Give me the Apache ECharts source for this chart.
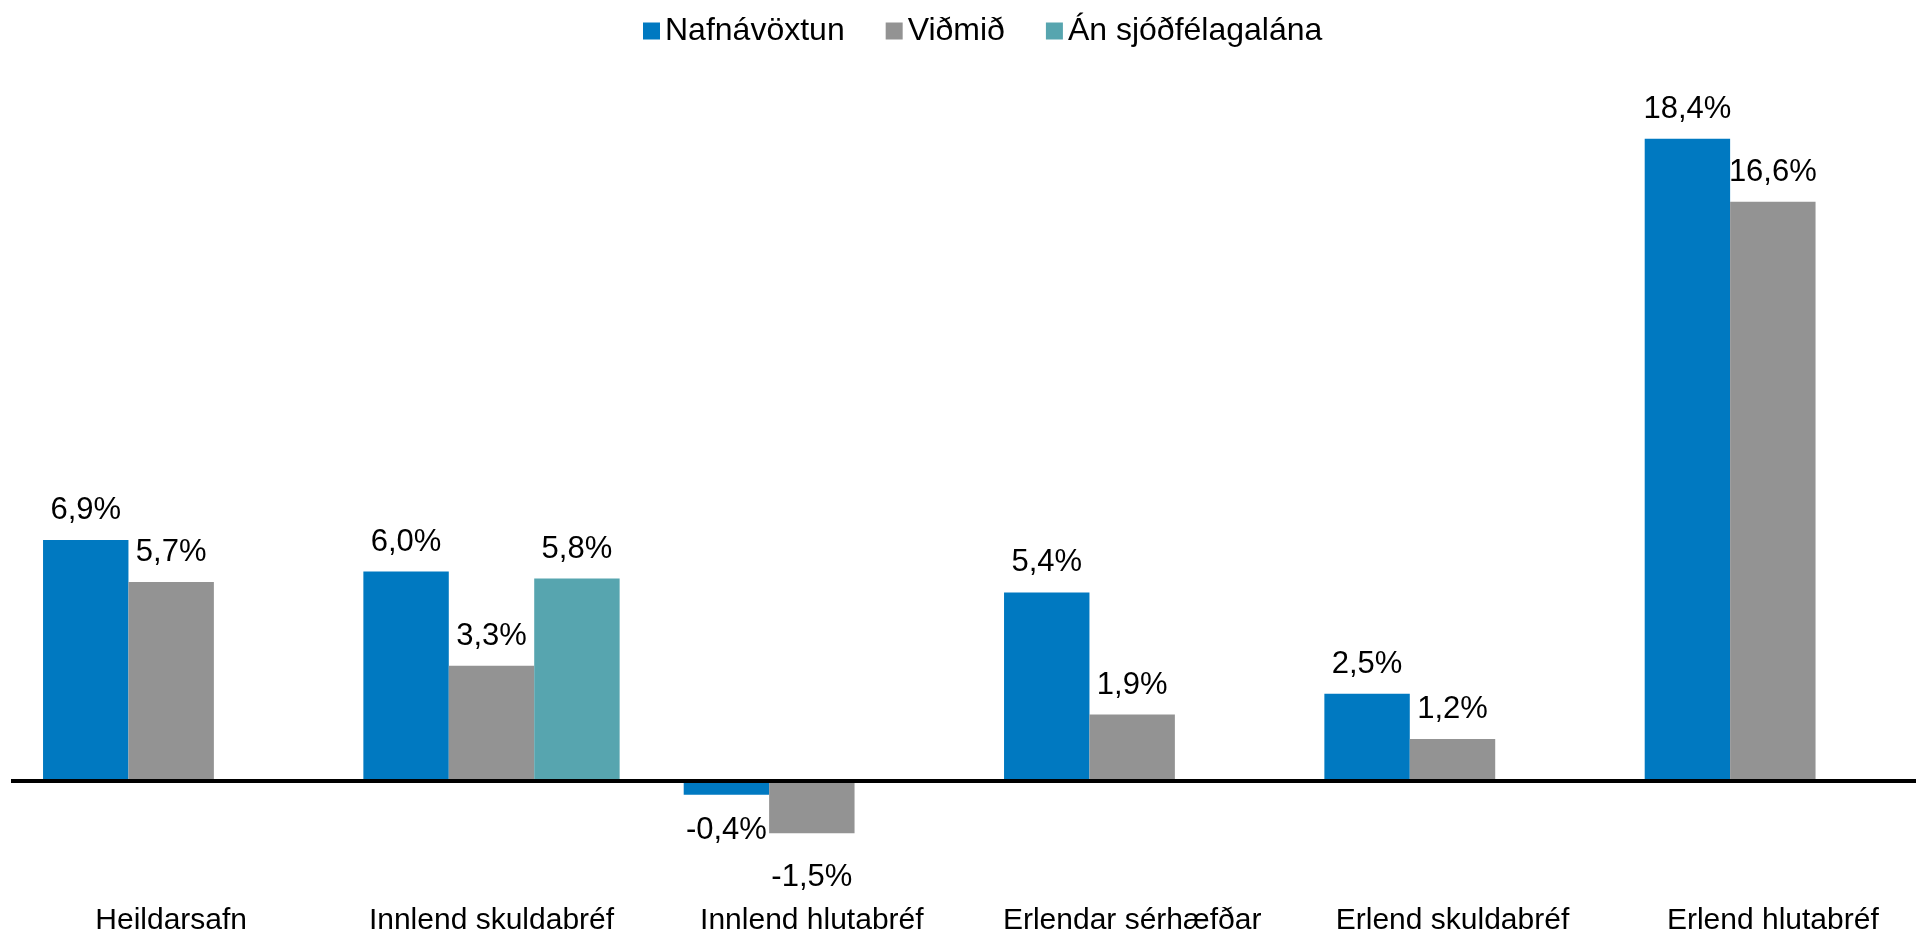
<!DOCTYPE html>
<html>
<head>
<meta charset="utf-8">
<script src="https://cdn.jsdelivr.net/npm/echarts@6/dist/echarts.min.js"></script>
<style>
  html, body { margin: 0; padding: 0; background: #fff; }
  #chart { width: 1916px; height: 937px; }
</style>
</head>
<body>
<div id="chart"></div>
<script>
// gögn lesin af myndinni
const categories = ['Heildarsafn', 'Innlend skuldabréf', 'Innlend hlutabréf', 'Erlendar sérhæfðar', 'Erlend skuldabréf', 'Erlend hlutabréf'];
const nafnavoxtun = [6.9, 6.0, -0.4, 5.4, 2.5, 18.4];
const vidmid = [5.7, 3.3, -1.5, 1.9, 1.2, 16.6];
const anSjodfelagalana = [null, 5.8, null, null, null, null];

const font = 'Liberation Sans, Arial, sans-serif';

function fmt(v) {
  return v.toFixed(1).replace('.', ',') + '%';
}

// label fyrir neikvæð gildi fer undir súluna
function buildData(values, extraDist) {
  return values.map(function (v, i) {
    if (v === null) return null;
    const neg = v < 0;
    return {
      value: v,
      label: {
        position: neg ? 'bottom' : 'top',
        distance: neg ? 20 + ((extraDist && extraDist[i]) || 0) : 14
      }
    };
  });
}

function makeSeries(name, values, color, extraDist) {
  return {
    name: name,
    type: 'bar',
    barGap: '0%',
    barCategoryGap: '20%',
    itemStyle: { color: color },
    label: {
      show: true,
      color: '#000',
      fontSize: 31,
      fontFamily: font,
      formatter: function (p) { return fmt(p.value); }
    },
    data: buildData(values, extraDist)
  };
}

const series = [
  makeSeries('Nafnávöxtun', nafnavoxtun, '#0079C1'),
  makeSeries('Viðmið', vidmid, '#939393', { 2: 9 }),
  makeSeries('Án sjóðfélagalána', anSjodfelagalana, '#57A5AF')
];

// núll-línan
series[2].markLine = {
  silent: true,
  symbol: ['none', 'none'],
  label: { show: false },
  lineStyle: { color: '#000', width: 4, type: 'solid' },
  data: [{ yAxis: 0 }]
};

const myChart = echarts.init(document.getElementById('chart'));
myChart.setOption({
  animation: false,
  backgroundColor: '#fff',
  textStyle: { fontFamily: font },
  legend: {
    left: 638,
    top: 10,
    itemWidth: 17,
    itemHeight: 17,
    itemGap: 41,
    icon: 'rect',
    textStyle: { fontSize: 32, color: '#000', fontFamily: font },
    data: ['Nafnávöxtun', 'Viðmið', 'Án sjóðfélagalána']
  },
  grid: { left: 11, top: 83, width: 1922, height: 820, containLabel: false, outerBoundsMode: 'none' },
  xAxis: {
    type: 'category',
    data: categories,
    axisLine: { show: false, onZero: false },
    axisTick: { show: false },
    axisLabel: { interval: 0, fontSize: 30, color: '#000', fontFamily: font, margin: 3 }
  },
  yAxis: {
    type: 'value',
    min: -3.5,
    max: 20,
    show: false,
    splitLine: { show: false }
  },
  series: series
});
window.onresize = function () {
  myChart.resize();
};
</script>
</body>
</html>
